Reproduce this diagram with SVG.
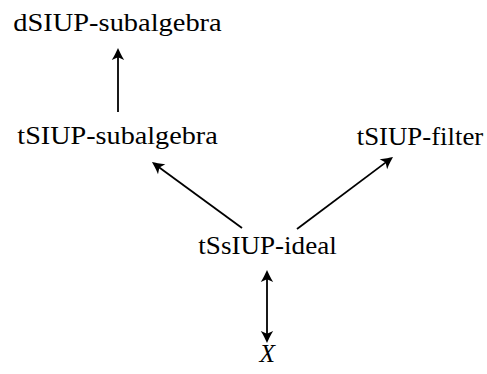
<svg xmlns="http://www.w3.org/2000/svg" width="487" height="374" viewBox="0 0 487 374">
  <style>
    .lbl { font-family: "Liberation Serif", "DejaVu Serif", serif; font-size: 25px; fill: #000; }
    .math { font-style: italic; }
    .edge { stroke: #000; stroke-width: 1.8; fill: none; }
  </style>
  <defs>
    <marker id="head" markerUnits="userSpaceOnUse" markerWidth="20" markerHeight="20" refX="0" refY="0" orient="auto-start-reverse" overflow="visible">
      <path d="M4,0 C1,-1.4 -3.5,-3.4 -8,-6.2 L-5.2,0 L-8,6.2 C-3.5,3.4 1,1.4 4,0 Z" fill="#000"/>
    </marker>
  </defs>

  <g id="dsiup-subalgebra">
    <text class="lbl" x="13.3" y="30.7" textLength="208.4" lengthAdjust="spacingAndGlyphs">dSIUP-subalgebra</text>
  </g>
  <g id="tsiup-subalgebra">
    <text class="lbl" x="17.3" y="144" textLength="200.4" lengthAdjust="spacingAndGlyphs">tSIUP-subalgebra</text>
  </g>
  <g id="tsiup-filter">
    <text class="lbl" x="356.7" y="144.5" textLength="126.6" lengthAdjust="spacingAndGlyphs">tSIUP-filter</text>
  </g>
  <g id="tssiup-ideal">
    <text class="lbl" x="198.3" y="254" textLength="138.4" lengthAdjust="spacingAndGlyphs">tSsIUP-ideal</text>
  </g>
  <g id="x">
    <text class="lbl math" x="259.5" y="361.7" textLength="15.5" lengthAdjust="spacingAndGlyphs">X</text>
  </g>

  <g id="connectors">
    <line class="edge" x1="118" y1="112" x2="118" y2="52" marker-end="url(#head)"/>
    <line class="edge" x1="242" y1="228" x2="155.2" y2="164.4" marker-end="url(#head)"/>
    <line class="edge" x1="297" y1="229" x2="389.8" y2="159.4" marker-end="url(#head)"/>
    <line class="edge" x1="267" y1="274" x2="267" y2="339" marker-start="url(#head)" marker-end="url(#head)"/>
  </g>
</svg>
